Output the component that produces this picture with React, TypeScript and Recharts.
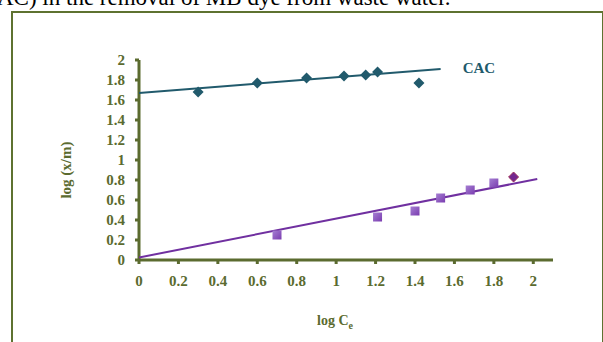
import React from 'react';
import { ScatterChart, Scatter, XAxis, YAxis } from 'recharts';

const xTicks = [0, 0.2, 0.4, 0.6, 0.8, 1, 1.2, 1.4, 1.6, 1.8, 2];
const yTicks = [0, 0.2, 0.4, 0.6, 0.8, 1, 1.2, 1.4, 1.6, 1.8, 2];

const cacX = [0.3, 0.6, 0.85, 1.04, 1.15, 1.21, 1.42];
const cacY = [1.68, 1.77, 1.82, 1.84, 1.85, 1.88, 1.77];

const bcX = [0.7, 1.21, 1.4, 1.53, 1.68, 1.8, 1.9];
const bcY = [0.25, 0.43, 0.49, 0.62, 0.7, 0.77, 0.83];
const bcKind = ['square', 'square', 'square', 'square', 'square', 'square', 'diamond'];

const cacFitX = [0, 1.53];
const cacFitY = [1.67, 1.91];
const bcFitX = [0, 2.02];
const bcFitY = [0.025, 0.81];

const seriesNames = ['CAC', 'BC'];

const OLIVE = '#5b6b2f';
const TEAL = '#215a6c';
const PURPLE = '#7030a0';

const cacData = cacX.map((x, i) => ({ x, y: cacY[i] }));
const bcData = bcX.map((x, i) => ({ x, y: bcY[i], kind: bcKind[i] }));
const cacFit = cacFitX.map((x, i) => ({ x, y: cacFitY[i], label: i === cacFitX.length - 1 ? seriesNames[0] : '' }));
const bcFit = bcFitX.map((x, i) => ({ x, y: bcFitY[i], label: i === bcFitX.length - 1 ? seriesNames[1] : '' }));

const serif = '"Liberation Serif", "Times New Roman", serif';

const Diamond = (props: any) => {
  const { cx, cy } = props;
  const r = 5.5;
  return <polygon points={`${cx},${cy - r} ${cx + r},${cy} ${cx},${cy + r} ${cx - r},${cy}`} fill={TEAL} />;
};

const BcShape = (props: any) => {
  const { cx, cy, payload } = props;
  if (payload && payload.kind === 'diamond') {
    const r = 5;
    return <polygon points={`${cx},${cy - r} ${cx + r},${cy} ${cx},${cy + r} ${cx - r},${cy}`} fill="#74278f" stroke="#a0305a" strokeWidth={1} />;
  }
  return <rect x={cx - 4.5} y={cy - 4.5} width={9} height={9} fill="url(#bcGrad)" />;
};

const makeEndLabel = (color: string, dx: number, dy: number) => (props: any) => {
  const { cx, cy, payload } = props;
  if (!payload || !payload.label) return <g />;
  return (
    <text x={cx + dx} y={cy + dy} fill={color} fontFamily={serif} fontWeight="bold" fontSize={15}>
      {payload.label}
    </text>
  );
};

export default function App() {
  const tickStyle = { fill: OLIVE, fontSize: 15, fontWeight: 'bold', fontFamily: serif } as any;
  return (
    <div style={{ position: 'absolute', left: 0, top: 0, width: 603, height: 342, overflow: 'hidden', background: '#fff' }}>
      <div
        style={{
          position: 'absolute',
          left: -3,
          top: -15,
          fontFamily: serif,
          fontSize: 23,
          color: '#000',
          whiteSpace: 'nowrap',
          lineHeight: '26px',
        }}
      >
        AC) in the removal of MB dye from waste water.
      </div>
      <div
        style={{
          position: 'absolute',
          left: 11,
          top: 11,
          width: 589,
          height: 360,
          border: `2px solid #5e7230`,
        }}
      />
      <div style={{ position: 'absolute', left: 0, top: 0 }}>
        <ScatterChart width={603} height={342} margin={{ top: 60, right: 50, bottom: 52, left: 99 }}>
          <defs>
            <linearGradient id="bcGrad" x1="0" y1="0" x2="1" y2="1">
              <stop offset="0%" stopColor="#a57fd2" />
              <stop offset="100%" stopColor="#7a3cb0" />
            </linearGradient>
          </defs>
          <XAxis
            type="number"
            dataKey="x"
            domain={[0, 2.1]}
            ticks={xTicks}
            allowDataOverflow
            axisLine={{ stroke: OLIVE, strokeWidth: 3 }}
            tickLine={{ stroke: OLIVE, strokeWidth: 3 }}
            tickSize={4}
            tickMargin={11}
            tick={tickStyle}
            height={30}
            interval={0}
          />
          <YAxis
            type="number"
            dataKey="y"
            domain={[0, 2]}
            ticks={yTicks}
            axisLine={{ stroke: OLIVE, strokeWidth: 3 }}
            tickLine={{ stroke: OLIVE, strokeWidth: 3 }}
            tickSize={4}
            tickMargin={10}
            tick={tickStyle}
            width={40}
            interval={0}
          />
          <Scatter data={cacFit} line={{ stroke: TEAL, strokeWidth: 2 }} shape={makeEndLabel(TEAL, 22, 4)} isAnimationActive={false} />
          <Scatter data={bcFit} line={{ stroke: PURPLE, strokeWidth: 2 }} shape={makeEndLabel(PURPLE, 16, 7)} isAnimationActive={false} />
          <Scatter data={cacData} shape={Diamond} isAnimationActive={false} />
          <Scatter data={bcData} shape={BcShape} isAnimationActive={false} />
        </ScatterChart>
      </div>
      <svg width={603} height={342} style={{ position: 'absolute', left: 0, top: 0, pointerEvents: 'none' }}>
        <text x={68} y={170} transform="rotate(-90 68 170)" textAnchor="middle" dominantBaseline="middle" fill={OLIVE} fontFamily={serif} fontWeight="bold" fontSize={15}>
          log (x/m)
        </text>
        <text x={335} y={325} textAnchor="middle" fill={OLIVE} fontFamily={serif} fontWeight="bold" fontSize={14}>
          log C<tspan fontSize={10} dy={4}>e</tspan>
        </text>
      </svg>
    </div>
  );
}
